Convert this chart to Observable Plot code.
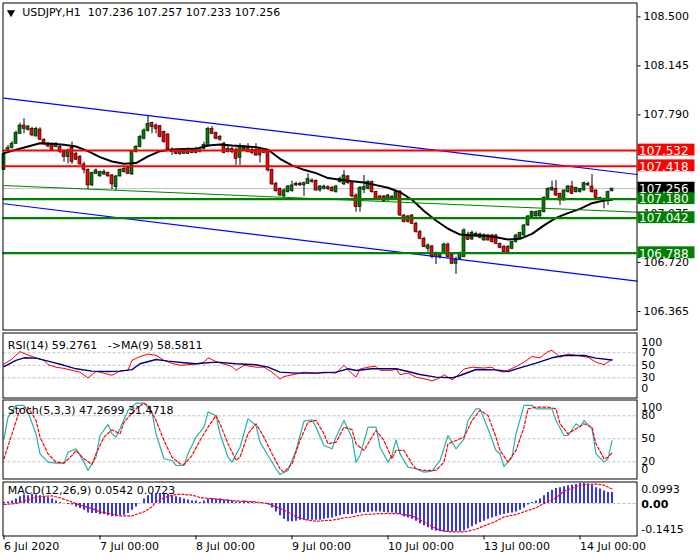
<!DOCTYPE html>
<html><head><meta charset="utf-8">
<script src="https://cdn.jsdelivr.net/npm/d3@7"></script>
<script src="https://cdn.jsdelivr.net/npm/@observablehq/plot@0.6"></script>
<style>
body{margin:0;background:#fff;}
#wrap{position:relative;width:700px;height:560px;overflow:hidden;background:#fff;}
#wrap svg{position:absolute;left:0;}
</style></head><body><div id="wrap"></div><script>
// ---------- price data (H1 candles, 6 Jul 00:00 .. 14 Jul 08:00) ----------
const opens = [107.392,107.527,107.549,107.581,107.653,107.713,107.682,107.689,107.634,107.684,
107.610,107.581,107.573,107.556,107.556,107.520,107.484,107.551,107.508,107.484,
107.431,107.392,107.279,107.363,107.344,107.358,107.368,107.351,107.266,107.344,
107.375,107.404,107.358,107.520,107.556,107.617,107.672,107.730,107.713,107.708,
107.665,107.648,107.520,107.527,107.508,107.527,107.508,107.527,107.513,107.532,
107.544,107.561,107.689,107.658,107.629,107.581,107.520,107.544,107.537,107.479,
107.532,107.556,107.537,107.537,107.544,107.513,107.527,107.392,107.291,107.254,
107.199,107.230,107.237,107.279,107.291,107.279,107.291,107.315,107.310,107.242,
107.254,107.266,107.262,107.230,107.303,107.286,107.344,107.295,107.206,107.122,
107.247,107.254,107.303,107.230,107.199,107.199,107.170,107.194,107.189,107.230,
107.061,107.054,107.061,107.001,106.940,106.892,106.820,106.837,106.784,106.759,
106.784,106.851,106.779,106.711,106.747,106.759,106.923,106.887,106.909,106.924,
106.880,106.916,106.916,106.916,106.856,106.832,106.832,106.820,106.868,106.899,
106.916,106.989,107.049,107.054,107.054,107.085,107.189,107.242,107.254,107.218,
107.170,107.230,107.271,107.230,107.230,107.242,107.291,107.271,107.242,107.189,
107.182,107.165,107.236];
const highs = [107.520,107.568,107.597,107.672,107.730,107.762,107.713,107.701,107.701,107.696,
107.617,107.590,107.585,107.590,107.568,107.537,107.544,107.593,107.520,107.496,
107.448,107.399,107.375,107.399,107.382,107.392,107.375,107.358,107.351,107.399,
107.411,107.416,107.532,107.568,107.641,107.689,107.786,107.737,107.725,107.713,
107.672,107.653,107.551,107.537,107.544,107.544,107.551,107.544,107.556,107.551,
107.593,107.701,107.706,107.665,107.641,107.593,107.561,107.556,107.551,107.581,
107.568,107.581,107.556,107.581,107.556,107.544,107.537,107.399,107.303,107.261,
107.254,107.279,107.310,107.303,107.303,107.303,107.363,107.327,107.320,107.279,
107.281,107.276,107.271,107.279,107.339,107.387,107.351,107.303,107.218,107.271,
107.351,107.315,107.310,107.237,107.206,107.206,107.213,107.206,107.237,107.242,
107.068,107.061,107.068,107.013,106.953,106.904,106.856,106.844,106.796,106.788,
106.861,106.861,106.788,106.759,106.796,106.965,106.940,106.948,106.940,106.933,
106.928,106.924,106.924,106.924,106.861,106.844,106.844,106.875,106.924,106.940,
106.996,107.061,107.093,107.093,107.097,107.199,107.262,107.310,107.315,107.223,
107.247,107.279,107.310,107.266,107.257,107.303,107.303,107.358,107.247,107.194,
107.189,107.237,107.257];
const lows = [107.387,107.520,107.542,107.576,107.648,107.653,107.672,107.634,107.629,107.605,
107.568,107.551,107.527,107.551,107.508,107.448,107.436,107.431,107.460,107.424,
107.363,107.249,107.271,107.358,107.339,107.351,107.339,107.249,107.242,107.339,
107.368,107.358,107.351,107.513,107.551,107.610,107.665,107.653,107.653,107.624,
107.585,107.532,107.496,107.501,107.496,107.503,107.503,107.508,107.508,107.513,
107.537,107.556,107.648,107.610,107.600,107.508,107.513,107.508,107.424,107.424,
107.527,107.513,107.503,107.489,107.441,107.508,107.375,107.279,107.230,107.199,
107.189,107.223,107.230,107.271,107.271,107.199,107.286,107.295,107.237,107.230,
107.247,107.242,107.230,107.223,107.295,107.279,107.286,107.189,107.085,107.085,
107.218,107.247,107.223,107.175,107.175,107.158,107.165,107.175,107.182,107.054,
107.006,107.006,106.996,106.933,106.885,106.827,106.796,106.747,106.706,106.747,
106.779,106.754,106.706,106.634,106.740,106.754,106.880,106.880,106.904,106.892,
106.875,106.875,106.861,106.851,106.820,106.788,106.788,106.813,106.861,106.892,
106.909,106.981,107.044,107.049,107.049,107.078,107.182,107.237,107.199,107.134,
107.165,107.223,107.213,107.223,107.223,107.237,107.271,107.223,107.182,107.170,
107.109,107.134,107.233];
const closes = [107.508,107.551,107.581,107.658,107.713,107.689,107.706,107.641,107.689,107.610,
107.581,107.561,107.537,107.581,107.520,107.484,107.532,107.448,107.465,107.431,
107.392,107.279,107.368,107.387,107.375,107.375,107.344,107.286,107.344,107.392,
107.399,107.363,107.520,107.556,107.629,107.677,107.725,107.701,107.689,107.629,
107.593,107.539,107.527,107.508,107.527,107.508,107.527,107.513,107.532,107.520,
107.573,107.689,107.653,107.617,107.610,107.513,107.544,107.520,107.472,107.561,
107.551,107.520,107.513,107.496,107.496,107.532,107.387,107.286,107.237,107.206,
107.242,107.271,107.279,107.291,107.279,107.295,107.327,107.303,107.242,107.271,
107.271,107.252,107.237,107.271,107.327,107.351,107.295,107.199,107.122,107.262,
107.266,107.303,107.230,107.182,107.182,107.165,107.206,107.182,107.230,107.061,
107.013,107.013,107.001,106.940,106.892,106.832,106.844,106.759,106.759,106.779,
106.851,106.759,106.711,106.742,106.784,106.953,106.885,106.936,106.928,106.899,
106.916,106.880,106.868,106.856,106.827,106.796,106.796,106.868,106.916,106.933,
106.989,107.054,107.085,107.085,107.093,107.189,107.254,107.262,107.206,107.170,
107.242,107.271,107.218,107.262,107.252,107.295,107.279,107.230,107.189,107.175,
107.165,107.230,107.256];

// moving average on price (bar index, value)
const maIdx = [0,3,6,9,12,15,18,21,24,27,30,33,36,39,42,45,48,51,54,57,60,63,66,69,72,75,78,81,84,87,90,93,96,99,102,105,108,111,114,117,120,123,126,129,132,135,138,141,144,147,150,152];
const maVal = [107.513,107.537,107.561,107.585,107.581,107.573,107.561,107.527,107.484,107.452,107.436,107.441,107.489,107.527,107.539,107.542,107.544,107.568,107.576,107.568,107.563,107.556,107.537,107.472,107.424,107.392,107.368,107.332,107.320,107.310,107.300,107.281,107.262,107.230,107.175,107.093,107.025,106.965,106.923,106.916,106.916,106.904,106.887,106.892,106.928,106.989,107.044,107.078,107.109,107.150,107.170,107.175];

// drawn objects
const chUpperIdx = [0, 158.25], chUpperPrice = [107.911, 107.358];
const chLowerIdx = [0, 158.25], chLowerPrice = [107.146, 106.585];
const trendGreenIdx = [0, 158.25], trendGreenPrice = [107.278, 107.085];
const redLevels = [107.532, 107.418];
const greenLevels = [107.180, 107.042, 106.788];
const lastPrice = 107.256;
const priceTicks = [108.500, 108.145, 107.790, 107.075, 106.720, 106.365];

// time axis
const dateTickIdx = [0, 24, 48, 72, 96, 120, 144];
const dateLabels = ["6 Jul 2020", "7 Jul 00:00", "8 Jul 00:00", "9 Jul 00:00", "10 Jul 00:00", "13 Jul 00:00", "14 Jul 00:00"];

// RSI(14) and its MA(9)
const rsiIdx = [0,2,4,5,7,10,11,13,15,17,19,21,23,24,27,29,31,32,34,36,38,40,42,44,46,48,50,51,53,55,57,58,60,63,65,67,69,70,73,75,78,80,83,85,86,88,89,91,93,94,97,98,99,101,103,106,107,109,110,112,113,115,117,120,122,123,125,126,128,130,132,134,136,137,139,141,143,146,148,150,152];
const rsiVal = [52,60,72,69,64,58,51,47,45,42,39,30,40,39,34,41,42,58,64,68,66,58,53,50,51,52,55,62,56,52,48,42,50,47,47,39,28,32,36,39,37.5,39,37.5,50,43,31,44,47,48.5,42,42,44,35,37.5,31,27,25,30,35,27,31,44,47,45.6,47,42,39,42,48,55,64,62,72,74,63,68,66,63,55,51,59.2761];
const rsiMaIdx = [0,3,5,8,12,15,18,22,26,29,32,34,38,41,45,48,53,58,63,66,69,73,78,83,86,88,92,98,101,104,108,112,114,118,123,126,129,133,137,140,145,148,152];
const rsiMaVal = [48,58,62,61.5,55,50,44.4,40.7,40,40.7,43,52.4,59.3,56.7,54,52.4,55,52.4,50.8,47,39,37.5,37.5,39,44.4,41.7,44.4,44.4,40,35.3,31,30,33.7,43.3,42.7,40,46,53.5,62,65.7,65.7,61.5,58.5811];
const rsiLevels = [70, 50, 30];

// Stochastic(5,3,3)
const stKIdx = [0,1,3,5,6,8,9,11,13,15,16,17,18,20,21,23,24,26,27,28,29,31,33,35,37,38,40,42,43,45,46,48,50,51,53,54,56,57,59,61,63,64,66,68,69,71,73,75,77,78,80,82,83,85,87,88,89,91,93,94,96,97,98,99,101,103,105,107,109,111,113,115,116,118,119,121,123,124,125,127,128,130,132,133,135,137,138,140,141,143,144,145,147,148,150,151,152];
const stKVal = [50,78,93.5,93.5,84.8,56.5,30.4,19.6,18.3,18.3,32.6,34.8,37,19.6,8.7,26,54.3,68.7,56.5,52.2,63,87,96.5,96.5,84.8,56.5,24,21.7,15.2,15.2,30.4,52.2,65.2,84.8,80.4,56.5,26,19.6,39,76,67.4,45.6,28.3,10.9,3.5,8.7,34.8,73,74.8,65.2,41.3,37,52.2,73.9,51.5,19.6,28.3,65.2,65.2,39,19.6,28.3,48.7,30.4,13,10.9,6.5,7.8,21.7,54.3,37,50,73.9,89,89,63,34.8,30.4,13.9,26,56.5,93.5,93.5,89,89,89,73.9,54.3,54.3,69.6,65.2,73.9,63,30.4,19.6,24,47.2699];
const stDIdx = [0,2,4,6,8,9,11,13,15,17,18,20,22,23,25,27,29,30,33,35,36,38,40,42,44,45,47,49,51,53,54,56,58,59,61,63,65,67,69,70,72,74,76,78,80,81,83,85,87,88,90,92,93,95,97,98,100,102,103,105,108,110,111,113,115,117,119,121,123,124,126,128,130,131,133,136,138,139,141,143,145,147,148,150,151,152];
const stDVal = [24,56.5,89,91.3,74,52.2,30.4,19.6,18.3,28.3,34.8,24,16.5,30.4,52.2,61.7,56.5,71.7,89,96.5,93.5,74,47.8,26,17.4,16.5,28.3,47.8,65.2,80.4,69.6,43.5,21.7,26,56.5,69.6,52.2,30.4,10.9,6.5,17.4,47.8,71.7,74,56.5,43.5,45.6,65.2,62,43.5,34.8,52.2,60.9,47.8,24,34.8,34.8,17.4,10.9,8.7,8.7,19.6,43.5,47.8,52.2,73.9,87,80.4,52.2,34.8,19.6,34.8,65.2,89,91.3,91.3,89,69.6,56.5,63,69.6,65.2,43.5,24,26,31.4718];
const stLevels = [80, 50, 20];

// MACD(12,26,9): histogram per bar, signal line
const macdHist = [0.005,0.008,0.012,0.022,0.033,0.042,0.038,0.045,0.042,0.038,
0.033,0.028,0.022,0.012,0.005,0.000,-0.005,-0.008,-0.017,-0.025,
-0.033,-0.047,-0.050,-0.050,-0.055,-0.055,-0.061,-0.066,-0.066,-0.061,
-0.058,-0.050,-0.033,-0.017,0.000,0.022,0.038,0.047,0.050,0.050,
0.050,0.045,0.038,0.033,0.028,0.022,0.017,0.012,0.012,0.005,
0.012,0.022,0.025,0.022,0.022,0.017,0.017,0.012,0.008,0.008,
0.012,0.008,0.008,0.005,0.003,0.000,-0.008,-0.022,-0.042,-0.061,
-0.078,-0.091,-0.091,-0.088,-0.083,-0.083,-0.083,-0.083,-0.083,-0.083,
-0.078,-0.075,-0.072,-0.066,-0.061,-0.055,-0.055,-0.055,-0.050,-0.047,
-0.045,-0.045,-0.042,-0.042,-0.042,-0.045,-0.047,-0.047,-0.050,-0.055,
-0.066,-0.072,-0.078,-0.088,-0.100,-0.111,-0.121,-0.133,-0.138,-0.140,
-0.141,-0.141,-0.1415,-0.1415,-0.141,-0.136,-0.125,-0.116,-0.105,-0.095,
-0.088,-0.078,-0.072,-0.066,-0.058,-0.055,-0.050,-0.047,-0.042,-0.033,
-0.022,-0.008,0.005,0.012,0.022,0.038,0.055,0.066,0.075,0.078,
0.083,0.088,0.091,0.095,0.0993,0.099,0.097,0.091,0.078,0.072,
0.062,0.055,0.0542];
const macdSigIdx = [0,3,6,8,12,14,17,19,22,24,27,29,32,33,35,37,38,40,42,44,47,49,53,56,59,63,66,68,71,73,76,78,82,85,87,90,94,98,102,105,108,110,113,115,118,120,123,125,128,130,133,135,138,140,143,145,148,150,152];
const macdSigVal = [-0.005,0,0.0166,0.033,0.038,0.028,0.008,-0.008,-0.025,-0.0415,-0.053,-0.0615,-0.0615,-0.0548,-0.0415,-0.0166,0.0083,0.028,0.0415,0.0465,0.0415,0.03,0.0216,0.0166,0.0116,0.0083,0,-0.0166,-0.0415,-0.0665,-0.0831,-0.0881,-0.0831,-0.0715,-0.0665,-0.0548,-0.0499,-0.0499,-0.0615,-0.0914,-0.1246,-0.1379,-0.1415,-0.1412,-0.128,-0.1113,-0.0881,-0.0665,-0.0548,-0.0415,-0.0216,0,0.028,0.0615,0.0831,0.0947,0.0964,0.0914,0.0723];

// ---------- drawing ----------
const N = opens.length;
const bars = d3.range(N).map(i => ({i, o: opens[i], h: highs[i], l: lows[i], c: closes[i]}));
const pts = (xs, ys) => xs.map((x, k) => ({x, y: ys[k]}));
const UP = "#008000", DN = "#ff0000", FONT = "DejaVu Sans";
const XD = [-0.25, 158.25];
const base = {
  width: 700, marginLeft: 2.5, marginRight: 63.5,
  style: {fontFamily: FONT, fontSize: "11px", background: "transparent", color: "black", overflow: "visible"}
};
const wrap = document.getElementById("wrap");
function place(svg, top) { svg.style.top = top + "px"; wrap.appendChild(svg); }
const hdr = (s, dx, dy) => Plot.text([s], {text: d => d, frameAnchor: "top-left", dx, dy, textAnchor: "start", lineAnchor: "middle", fill: "black", fontSize: 11});

// main price chart
const boxes = [
  ...redLevels.map(v => ({v, bg: DN})),
  {v: lastPrice, bg: "black"},
  ...greenLevels.map(v => ({v, bg: UP}))
];
const last = N - 1;
place(Plot.plot({
  ...base, height: 331, marginTop: 2.5, marginBottom: 1.5,
  x: {domain: XD, axis: null},
  y: {domain: [106.2313, 108.6008]},
  marks: [
    Plot.axisY({anchor: "right", label: null, ticks: priceTicks, tickSize: 3, tickPadding: 3.5, tickFormat: d => d.toFixed(3), fill: "black", fontSize: 11}),
    Plot.ruleY([lastPrice], {stroke: "#c0c0c0", strokeWidth: 1}),
    Plot.ruleX(bars, {x: "i", y1: "l", y2: "h", stroke: "black", strokeWidth: 1}),
    Plot.rect(bars, {x1: d => d.i - 0.375, x2: d => d.i + 0.375, y1: "o", y2: "c",
      fill: d => d.c >= d.o ? UP : DN, stroke: "black", strokeWidth: 0.6}),
    Plot.line(pts(maIdx, maVal), {x: "x", y: "y", stroke: "black", strokeWidth: 2}),
    Plot.line(pts(trendGreenIdx, trendGreenPrice), {x: "x", y: "y", stroke: UP, strokeWidth: 1}),
    Plot.line(pts(chUpperIdx, chUpperPrice), {x: "x", y: "y", stroke: "#0000ff", strokeWidth: 1.2}),
    Plot.line(pts(chLowerIdx, chLowerPrice), {x: "x", y: "y", stroke: "#0000ff", strokeWidth: 1.2}),
    Plot.ruleY(redLevels, {stroke: DN, strokeWidth: 2.2}),
    Plot.ruleY(greenLevels, {stroke: UP, strokeWidth: 2.2}),
    Plot.frame({stroke: "black"}),
    Plot.rect(boxes, {x1: 158.5, x2: 172.75, y1: d => d.v - 0.040, y2: d => d.v + 0.046, fill: "bg"}),
    Plot.text(boxes, {x: 158.75, y: "v", text: d => d.v.toFixed(3), textAnchor: "start", fill: "white", fontSize: 12, dy: 0.5}),
    Plot.dot([0], {frameAnchor: "top-left", dx: 8, dy: 9.5, symbol: "triangle", r: 3, rotate: 180, fill: "black", stroke: null}),
    hdr(`USDJPY,H1\u00a0\u00a0${opens[last].toFixed(3)} ${highs[last].toFixed(3)} ${lows[last].toFixed(3)} ${closes[last].toFixed(3)}`, 19.2, 9.8)
  ]
}), 0);

// RSI
const rsiLast = rsiVal[rsiVal.length - 1], rsiMaLast = rsiMaVal[rsiMaVal.length - 1];
place(Plot.plot({
  ...base, height: 68, marginTop: 1.5, marginBottom: 1.5,
  x: {domain: XD, axis: null},
  y: {domain: [-2.32, 101.68], axis: null},
  marks: [
    Plot.ruleY(rsiLevels, {stroke: "#c0c0c0", strokeDasharray: "3,2"}),
    Plot.line(pts(rsiIdx, rsiVal), {x: "x", y: "y", stroke: "#ff0000", strokeWidth: 1}),
    Plot.line(pts(rsiMaIdx, rsiMaVal), {x: "x", y: "y", stroke: "#000080", strokeWidth: 1.4}),
    Plot.frame({stroke: "black"}),
    Plot.text(rsiLevels, {y: d => d, text: d => String(d), frameAnchor: "right", dx: 4.2, textAnchor: "start", fill: "black"}),
    Plot.text([100], {y: d => d, text: d => String(d), frameAnchor: "right", dx: 4.2, dy: 8, textAnchor: "start", fill: "black"}),
    Plot.text([0], {y: d => d, text: d => String(d), frameAnchor: "right", dx: 4.2, dy: -8, textAnchor: "start", fill: "black"}),
    hdr(`RSI(14) ${rsiLast.toFixed(4)}\u00a0\u00a0\u00a0->MA(9) ${rsiMaLast.toFixed(4)}`, 4.8, 12)
  ]
}), 331);

// Stochastic
place(Plot.plot({
  ...base, height: 82, marginTop: 1.5, marginBottom: 1.5,
  x: {domain: XD, axis: null},
  y: {domain: [-2.43, 100.6], axis: null},
  marks: [
    Plot.ruleY(stLevels, {stroke: "#c0c0c0", strokeDasharray: "3,2"}),
    Plot.line(pts(stKIdx, stKVal), {x: "x", y: "y", stroke: "#20b2aa", strokeWidth: 1.2}),
    Plot.line(pts(stDIdx, stDVal), {x: "x", y: "y", stroke: "#ff0000", strokeWidth: 1.2, strokeDasharray: "3,2"}),
    Plot.frame({stroke: "black"}),
    Plot.text(stLevels, {y: d => d, text: d => String(d), frameAnchor: "right", dx: 4.2, textAnchor: "start", fill: "black"}),
    Plot.text([100], {y: d => d, text: d => String(d), frameAnchor: "right", dx: 4.2, dy: 6.7, textAnchor: "start", fill: "black"}),
    Plot.text([0], {y: d => d, text: d => String(d), frameAnchor: "right", dx: 4.2, dy: -7.6, textAnchor: "start", fill: "black"}),
    hdr(`Stoch(5,3,3) ${stKVal[stKVal.length - 1].toFixed(4)} ${stDVal[stDVal.length - 1].toFixed(4)}`, 4.8, 10)
  ]
}), 398);

// MACD + time axis
const macdMax = d3.max(macdHist), macdMin = d3.min(macdHist);
place(Plot.plot({
  ...base, height: 80, marginTop: 1.5, marginBottom: 24.5,
  x: {domain: XD, label: null},
  y: {domain: [-0.1614, 0.1068], axis: null},
  marks: [
    Plot.ruleY([0], {stroke: "#c0c0c0", strokeDasharray: "3,2"}),
    Plot.ruleX(macdHist, {x: (d, i) => i, y1: 0, y2: d => d, stroke: "#0000ff", strokeWidth: 1.6}),
    Plot.line(pts(macdSigIdx, macdSigVal), {x: "x", y: "y", stroke: "#ff0000", strokeWidth: 1.2, strokeDasharray: "2,2"}),
    Plot.frame({stroke: "black"}),
    Plot.text([macdMax], {y: d => d, text: d => d.toFixed(4), frameAnchor: "right", dx: 4.2, dy: 5.7, textAnchor: "start", fill: "black"}),
    Plot.text([0], {y: d => d, text: () => "0.00", frameAnchor: "right", dx: 4.2, dy: 0.7, textAnchor: "start", fill: "black", fontWeight: "bold"}),
    Plot.text([macdMin], {y: d => d, text: d => d.toFixed(4), frameAnchor: "right", dx: 4.2, dy: -2.8, textAnchor: "start", fill: "black"}),
    Plot.axisX({anchor: "bottom", label: null, ticks: dateTickIdx, tickFormat: d => dateLabels[dateTickIdx.indexOf(d)], tickSize: 4, tickPadding: 2, textAnchor: "start", fill: "black", fontSize: 11}),
    hdr(`MACD(12,26,9) ${macdHist[N - 1].toFixed(4)} ${macdSigVal[macdSigVal.length - 1].toFixed(4)}`, 4.8, 8.8)
  ]
}), 480);
</script></body></html>
